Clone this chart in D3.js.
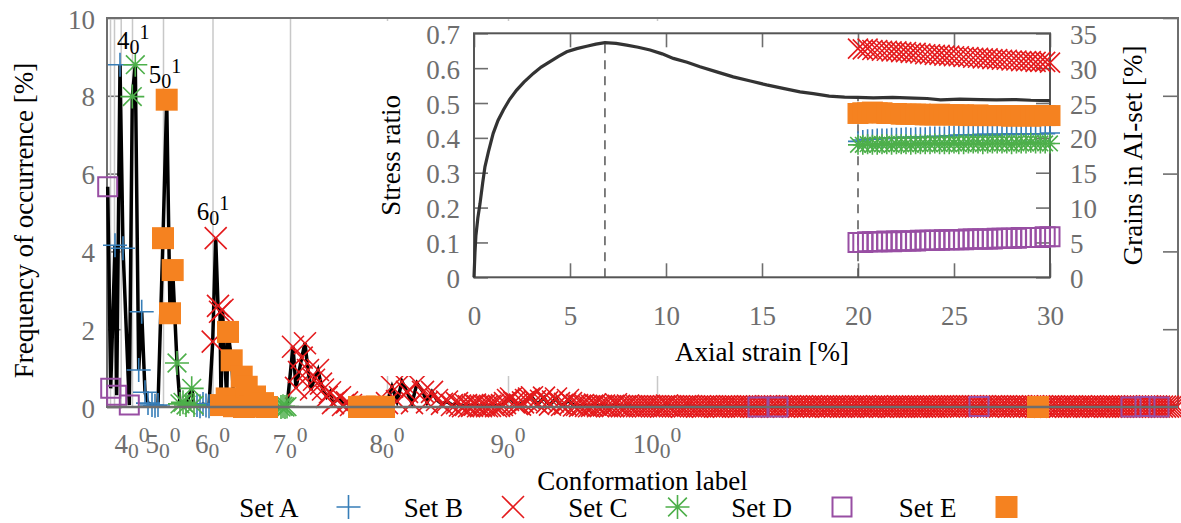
<!DOCTYPE html>
<html>
<head>
<meta charset="utf-8">
<script src="https://cdn.jsdelivr.net/npm/d3@7"></script>
<style>
  body { margin: 0; background: #fff; }
  text { font-family: "Liberation Serif", "Times New Roman", serif; }
</style>
</head>
<body>
<script>
// ---- main plot data: conformation index vs frequency of occurrence [%]
var conformationTicks = [3, 7, 13.7, 25, 56, 105.5, 183, 280, 401, 550];
var conformationLabels = ['', '', '', '4', '5', '6', '7', '8', '9', '10'];
var freqTicks = [0, 2, 4, 6, 8, 10];

var setA = [[8, 4.16], [13, 8.8], [16, 4.08], [31.7, 0.95], [34.7, 2.45], [38, 0.38],
  [41, 0.1], [45, 0.05], [48, 0.03], [51, 0.05], [90, 0.05], [93, 0.02], [96, 0.08],
  [99, 0.04], [102, 0.02]];
var setB = [[105.7, 1.68], [108.7, 4.34], [111, 2.6], [113, 2.45], [115.5, 2.5],
  [186, 1.55], [189, 0.49], [192, 0.9], [194.7, 1.27], [198, 1.64], [201, 0.95],
  [204, 0.45], [207, 0.7], [211, 0.95], [214, 0.6], [216, 0.45], [219.7, 0.26],
  [223, 0.38], [226, 0.1], [229.7, 0.18], [233, 0.25], [236, 0.05], [240, 0.12],
  [244, 0.05], [280, 0.1], [285, 0.52], [290, 0.15], [295, 0.65], [300, 0.39],
  [305, 0.1], [310, 0.61], [316, 0.39], [320, 0.12], [325, 0.39], [330, 0.18],
  [335, 0.08], [340, 0.14], [345, 0.05], [350, 0.1]];
// long low tail of set B, one value per sampled conformation
var tailStart = 353;
var tailStep = 3;
var tailFreq = [
  0.04,0.02,0.05,0.02,0.03,0.06,0.02,0.02,0.04,0.02,0.03,0.05,0.02,0.03,0.05,0.1,0.18,0.22,0.12,0.08,
  0.06,0.12,0.18,0.22,0.25,0.15,0.08,0.16,0.24,0.12,0.06,0.14,0.22,0.1,0.05,0.08,0.18,0.1,0.04,0.05,
  0.03,0.05,0.03,0.02,0.03,0.06,0.02,0.03,0.04,0.02,0.02,0.03,0.07,0.03,0.02,0.02,0.04,0.02,0.02,0.02,
  0.02,0.02,0.02,0.03,0.02,0.02,0.02,0.01,0.02,0.04,0.02,0.02,0.02,0.02,0.01,0.02,0.03,0.02,0.02,0.01,
  0.02,0.01,0.02,0.02,0.02,0.01,0.01,0.02,0.01,0.02,0.02,0.01,0.02,0.01,0.01,0.02,0.02,0.01,0.01,0.01,
  0.02,0.01,0.02,0.02,0.01,0.02,0.01,0.02,0.01,0.02,0.02,0.01,0.02,0.01,0.02,0.01,0.01,0.02,0.01,0.02,
  0.01,0.02,0.01,0.01,0.02,0.01,0.02,0.01,0.01,0.02,0.01,0.01,0.02,0.01,0.01,0.02,0.01,0.01,0.01,0.02,
  0.01,0.01,0.02,0.01,0.01,0.01,0.02,0.01,0.01,0.01,0.01,0.02,0.01,0.01,0.01,0.01,0.02,0.01,0.01,0.01,
  0.02,0.02,0.02,0.01,0.02,0.02,0.02,0.01,0.02,0.02,0.02,0.02,0.01,0.02,0.02,0.02,0.01,0.02,0.02,0.02,
  0.01,0.02,0.02,0.01,0.02,0.01,0.02,0.02,0.01,0.02,0.01,0.02,0.01,0.02,0.02,0.01,0.02,0.01,0.02,0.01,
  0.01,0.02,0.01,0.01,0.02,0.01,0.01,0.02,0.01,0.01,0.02,0.01,0.01,0.01,0.02,0.01,0.01,0.01,0.02,0.01,
  0.01,0.01,0.01,0.02,0.01,0.01,0.01,0.01,0.01,0.02,0.01,0.01,0.01,0.01,0.01,0.01,0.01,0.01,0.01,0.01];
var setC = [[25.3, 7.98], [28.3, 8.8], [70, 1.13], [73, 0.08], [76, 0.12], [79, 0.05],
  [84.7, 0.48], [87, 0.05], [174, 0.0], [176, 0.02], [178, 0.0], [180, 0.01]];
var setD = [[0.7, 5.66], [3.7, 0.48], [9.7, 0.3], [22.3, 0.05], [651, 0.0], [671, 0.0],
  [872, 0.01], [1024, 0.0], [1038, 0.01], [1052, 0.0]];
var setE = [[56, 4.34], [59.7, 7.9], [63, 2.41], [65.7, 3.52], [114, 0.05], [119.7, 0.22],
  [121, 1.93], [124.7, 1.2], [127, 0.02], [134.7, 0.78], [137, 0.0], [139.7, 0.52],
  [143, 0.01], [148, 0.27], [152, 0.02], [156, 0.1], [160, 0.0], [252, 0.0], [258, 0.01],
  [264, 0.0], [270, 0.01], [277, 0.0], [931, 0.0]];
var peakLabels = ['4', '5', '6'];

// ---- inset data
var stressStrain = [0, 0.05, 0.1, 0.2, 0.31, 0.45, 0.57, 0.75, 1.0, 1.25, 1.53, 1.85, 2.22,
  2.6, 3.09, 3.5, 3.96, 4.4, 4.83, 5.35, 5.87, 6.35, 6.82, 7.4, 7.95, 8.55, 9.17, 9.8,
  10.38, 11.1, 11.77, 12.6, 13.5, 14.4, 15.24, 16.1, 16.98, 17.67, 18.5, 19.3, 19.98,
  20.8, 21.8, 22.9, 23.6, 24.3, 25.3, 26.4, 27.2, 28.1, 29.0, 30.0];
var stressRatio = [0, 0.07, 0.12, 0.17, 0.21, 0.27, 0.317, 0.36, 0.413, 0.45, 0.48, 0.51,
  0.537, 0.56, 0.585, 0.603, 0.619, 0.634, 0.647, 0.656, 0.663, 0.669, 0.673, 0.671,
  0.666, 0.66, 0.652, 0.641, 0.628, 0.617, 0.604, 0.59, 0.575, 0.563, 0.552, 0.542,
  0.532, 0.527, 0.52, 0.517, 0.516, 0.515, 0.516, 0.514, 0.513, 0.509, 0.511, 0.51,
  0.509, 0.51, 0.508, 0.507];
var strainTicks = [0, 5, 10, 15, 20, 25, 30];
var ratioTicks = [0, 0.1, 0.2, 0.3, 0.4, 0.5, 0.6, 0.7];
var grainTicks = [0, 5, 10, 15, 20, 25, 30, 35];

var aiStrain = [20, 20.25, 20.5, 20.75, 21, 21.25, 21.5, 21.75, 22, 22.25, 22.5, 22.75,
  23, 23.25, 23.5, 23.75, 24, 24.25, 24.5, 24.75, 25, 25.25, 25.5, 25.75, 26, 26.25,
  26.5, 26.75, 27, 27.25, 27.5, 27.75, 28, 28.25, 28.5, 28.75, 29, 29.25, 29.5, 29.75, 30];
var aiSetA = [19.5,19.7,19.8,19.8,19.9,19.9,19.9,20.0,20.0,20.0,20.1,20.0,20.1,20.1,20.1,
  20.2,20.2,20.2,20.2,20.3,20.3,20.4,20.4,20.3,20.4,20.4,20.5,20.5,20.4,20.5,20.5,20.5,
  20.6,20.5,20.6,20.6,20.6,20.6,20.6,20.6,20.7];
var aiSetB = [32.8,32.7,32.8,32.6,32.6,32.5,32.5,32.4,32.4,32.3,32.3,32.2,32.2,32.1,32.0,
  32.0,31.9,31.9,31.8,31.8,31.7,31.7,31.6,31.6,31.5,31.5,31.4,31.4,31.3,31.3,31.2,31.2,
  31.1,31.1,31.0,31.0,31.0,30.9,30.9,30.9,30.8];
var aiSetC = [19.0,19.0,19.1,19.0,19.0,19.1,19.1,19.0,19.1,19.1,19.1,19.0,19.1,19.1,19.1,
  19.1,19.2,19.1,19.1,19.1,19.2,19.1,19.1,19.2,19.2,19.2,19.1,19.2,19.2,19.2,19.2,19.2,
  19.1,19.2,19.2,19.2,19.3,19.2,19.2,19.2,19.2];
var aiSetD = [5.0,5.0,5.1,5.1,5.1,5.1,5.2,5.1,5.2,5.2,5.2,5.2,5.2,5.3,5.3,5.3,5.3,5.3,5.4,
  5.4,5.4,5.4,5.4,5.5,5.5,5.5,5.5,5.5,5.5,5.6,5.6,5.6,5.6,5.6,5.7,5.7,5.7,5.7,5.7,5.8,5.8];
var aiSetE = [23.5,23.6,23.6,23.7,23.6,23.6,23.5,23.5,23.5,23.4,23.4,23.4,23.4,23.4,23.3,
  23.3,23.3,23.4,23.3,23.3,23.3,23.3,23.3,23.2,23.2,23.3,23.2,23.2,23.2,23.2,23.2,23.2,
  23.1,23.2,23.2,23.2,23.1,23.2,23.2,23.2,23.2];

var legendNames = ['Set A', 'Set B', 'Set C', 'Set D', 'Set E'];

// ---- styles
var styles = [
  {type: 'plus', color: '#377eb8', size: 24, inset: 20},
  {type: 'cross', color: '#e41a1c', size: 22, inset: 20},
  {type: 'star', color: '#4daf4a', size: 24, inset: 20},
  {type: 'square', color: '#984ea3', size: 19, inset: 19},
  {type: 'filled', color: '#f58220', size: 22, inset: 21}
];
var tickGray = '#6e6e6e';
var fontSize = 27;

var width = 1181;
var height = 523;

var svg = d3.select('body').append('svg')
  .attr('width', width)
  .attr('height', height);

function symbolPath(type, s) {
  var h = s / 2;
  var plus = 'M' + (-h) + ',0H' + h + 'M0,' + (-h) + 'V' + h;
  var c = type === 'star' ? h * 0.78 : h;
  var cross = 'M' + (-c) + ',' + (-c) + 'L' + c + ',' + c + 'M' + (-c) + ',' + c + 'L' + c + ',' + (-c);
  if (type === 'plus') return plus;
  if (type === 'cross') return cross;
  if (type === 'star') return plus + cross;
  return 'M' + (-h) + ',' + (-h) + 'H' + h + 'V' + h + 'H' + (-h) + 'Z';
}

function drawMarkers(g, pts, st, size, xs, ys) {
  g.selectAll(null).data(pts).enter().append('path')
    .attr('transform', function(d) { return 'translate(' + xs(d[0]) + ',' + ys(d[1]) + ')'; })
    .attr('d', symbolPath(st.type, size))
    .attr('fill', st.type === 'filled' ? st.color : 'none')
    .attr('stroke', st.type === 'filled' ? 'none' : st.color)
    .attr('stroke-width', st.type === 'square' ? 2 : 1.6);
}

function addSubSup(g, px, py, base, sub, sup, size, anchor, color) {
  var t = g.append('text')
    .attr('x', px).attr('y', py)
    .attr('font-size', size)
    .attr('text-anchor', anchor)
    .attr('fill', color);
  t.append('tspan').text(base);
  t.append('tspan').attr('font-size', size * 0.8).attr('dy', size * 0.2).text(sub);
  t.append('tspan').attr('font-size', size * 0.8).attr('dy', -size * 0.6).text(sup);
}

function styleAxis(g) {
  g.select('.domain').remove();
  g.selectAll('.tick line').attr('stroke', tickGray).attr('stroke-width', 1.6);
  g.selectAll('.tick text')
    .attr('fill', tickGray)
    .attr('font-size', fontSize)
    .attr('font-family', '"Liberation Serif", serif');
}

// ---- main plot
var plotLeft = 107, plotRight = 1178, plotTop = 18, plotBottom = 407;
var x = d3.scaleLinear().domain([0, 1071]).range([plotLeft, plotRight]);
var y = d3.scaleLinear().domain([0, 10]).range([plotBottom, plotTop]);

var main = svg.append('g');

main.append('g')
  .attr('transform', 'translate(' + plotLeft + ',0)')
  .call(d3.axisLeft(y).tickValues(freqTicks).tickSize(-15).tickPadding(12))
  .call(styleAxis)
  .selectAll('.tick text').attr('dy', '0.37em');

main.append('g')
  .attr('transform', 'translate(' + plotRight + ',0)')
  .call(d3.axisRight(y).tickValues(freqTicks).tickSize(-15).tickFormat(''))
  .call(styleAxis);

// vertical grid at the first conformation of each grain count
main.append('g')
  .attr('transform', 'translate(0,' + plotBottom + ')')
  .call(d3.axisBottom(x).tickValues(conformationTicks).tickSize(-(plotBottom - plotTop)).tickFormat(''))
  .call(styleAxis)
  .selectAll('.tick line').attr('stroke', '#c8c8c8').attr('stroke-width', 1.5);

conformationTicks.forEach(function(t, i) {
  if (conformationLabels[i] === '') return;
  addSubSup(main, x(t), 453, conformationLabels[i], '0', '0', fontSize, 'middle', tickGray);
});

main.append('rect')
  .attr('x', plotLeft).attr('y', plotTop)
  .attr('width', plotRight - plotLeft).attr('height', plotBottom - plotTop)
  .attr('fill', 'none').attr('stroke', tickGray).attr('stroke-width', 2);

var tailPoints = tailFreq.map(function(v, i) { return [tailStart + i * tailStep, v]; });
var setBAll = setB.concat(tailPoints);
var sets = [setA, setBAll, setC, setD, setE];

var allPoints = [].concat(setA, setBAll, setC, setD, setE)
  .sort(function(a, b) { return a[0] - b[0]; });

// the black line sits below the point markers
main.append('path')
  .datum(allPoints)
  .attr('d', d3.line().x(function(d) { return x(d[0]); }).y(function(d) { return y(d[1]); }))
  .attr('fill', 'none')
  .attr('stroke', '#000')
  .attr('stroke-width', 3.5);

for (var s = 0; s < 5; s++) {
  drawMarkers(main.append('g'), sets[s], styles[s], styles[s].size, x, y);
}

// zero line on top of markers
main.append('line')
  .attr('x1', plotLeft).attr('x2', plotRight)
  .attr('y1', y(0)).attr('y2', y(0))
  .attr('stroke', tickGray).attr('stroke-width', 2.5);

// peak labels n_0^1
var peaks = [setA[1], setE[1], setB[1]];
var peakOffsets = [[-3, -16], [-18, -17], [-19, -18]];
peaks.forEach(function(p, i) {
  addSubSup(main, x(p[0]) + peakOffsets[i][0], y(p[1]) + peakOffsets[i][1],
    peakLabels[i], '0', '1', 25, 'start', '#000');
});

main.append('text')
  .attr('transform', 'translate(33,' + ((plotTop + plotBottom) / 2 + 8) + ') rotate(-90)')
  .attr('text-anchor', 'middle')
  .attr('font-size', fontSize)
  .text('Frequency of occurrence [%]');

main.append('text')
  .attr('x', (plotLeft + plotRight) / 2).attr('y', 490)
  .attr('text-anchor', 'middle')
  .attr('font-size', fontSize)
  .text('Conformation label');

// ---- legend
legendNames.forEach(function(name, i) {
  var textEnd = 298.5 + i * 164.5;
  svg.append('text')
    .attr('x', textEnd).attr('y', 517)
    .attr('text-anchor', 'end')
    .attr('font-size', fontSize)
    .text(name);
  var st = styles[i];
  svg.append('path')
    .attr('transform', 'translate(' + (textEnd + 50) + ',507)')
    .attr('d', symbolPath(st.type, st.size))
    .attr('fill', st.type === 'filled' ? st.color : 'none')
    .attr('stroke', st.type === 'filled' ? 'none' : st.color)
    .attr('stroke-width', st.type === 'square' ? 2 : 1.6);
});

// ---- inset
var inset = svg.append('g');
inset.append('rect')
  .attr('x', 376).attr('y', 21)
  .attr('width', 1163 - 376).attr('height', 376 - 21)
  .attr('fill', '#fff');

var iL = 474, iR = 1050, iT = 33.3, iB = 277.3;
var ix = d3.scaleLinear().domain([0, 30]).range([iL, iR]);
var iy = d3.scaleLinear().domain([0, 0.7]).range([iB, iT]);
var iy2 = d3.scaleLinear().domain([0, 35]).range([iB, iT]);
var plainFormat = d3.format('~g');

inset.append('g')
  .attr('transform', 'translate(0,' + iB + ')')
  .call(d3.axisBottom(ix).tickValues(strainTicks).tickFormat(plainFormat).tickSize(-14).tickPadding(29))
  .call(styleAxis);
inset.append('g')
  .attr('transform', 'translate(0,' + iT + ')')
  .call(d3.axisTop(ix).tickValues(strainTicks).tickSize(-14).tickFormat(''))
  .call(styleAxis);
inset.append('g')
  .attr('transform', 'translate(' + iL + ',0)')
  .call(d3.axisLeft(iy).tickValues(ratioTicks).tickFormat(plainFormat).tickSize(-14).tickPadding(14))
  .call(styleAxis)
  .selectAll('.tick text').attr('dy', '0.37em');
inset.append('g')
  .attr('transform', 'translate(' + iR + ',0)')
  .call(d3.axisRight(iy2).tickValues(grainTicks).tickFormat(plainFormat).tickSize(-14).tickPadding(20))
  .call(styleAxis)
  .selectAll('.tick text').attr('dy', '0.37em');

inset.append('rect')
  .attr('x', iL).attr('y', iT)
  .attr('width', iR - iL).attr('height', iB - iT)
  .attr('fill', 'none').attr('stroke', '#555').attr('stroke-width', 2);

// dashed markers: peak of the curve and start of the AI-set window
var peakI = d3.maxIndex(stressRatio);
var windowI = d3.bisectLeft(stressStrain, aiStrain[0]);
[[stressStrain[peakI], stressRatio[peakI]], [aiStrain[0], stressRatio[windowI]]].forEach(function(p) {
  inset.append('line')
    .attr('x1', ix(p[0])).attr('x2', ix(p[0]))
    .attr('y1', iB).attr('y2', iy(p[1]))
    .attr('stroke', '#555').attr('stroke-width', 1.5)
    .attr('stroke-dasharray', '9,7');
});

inset.append('path')
  .datum(d3.zip(stressStrain, stressRatio))
  .attr('d', d3.line().x(function(d) { return ix(d[0]); }).y(function(d) { return iy(d[1]); }))
  .attr('fill', 'none')
  .attr('stroke', '#333')
  .attr('stroke-width', 3.2);

[aiSetA, aiSetB, aiSetC, aiSetD, aiSetE].forEach(function(vals, i) {
  drawMarkers(inset.append('g'), d3.zip(aiStrain, vals), styles[i], styles[i].inset, ix, iy2);
});

inset.append('text')
  .attr('transform', 'translate(400,' + ((iT + iB) / 2) + ') rotate(-90)')
  .attr('text-anchor', 'middle')
  .attr('font-size', fontSize)
  .text('Stress ratio');

inset.append('text')
  .attr('transform', 'translate(1142,' + ((iT + iB) / 2) + ') rotate(-90)')
  .attr('text-anchor', 'middle')
  .attr('font-size', fontSize)
  .text('Grains in AI-set [%]');

inset.append('text')
  .attr('x', (iL + iR) / 2).attr('y', 361)
  .attr('text-anchor', 'middle')
  .attr('font-size', fontSize)
  .text('Axial strain [%]');
</script>
</body>
</html>
